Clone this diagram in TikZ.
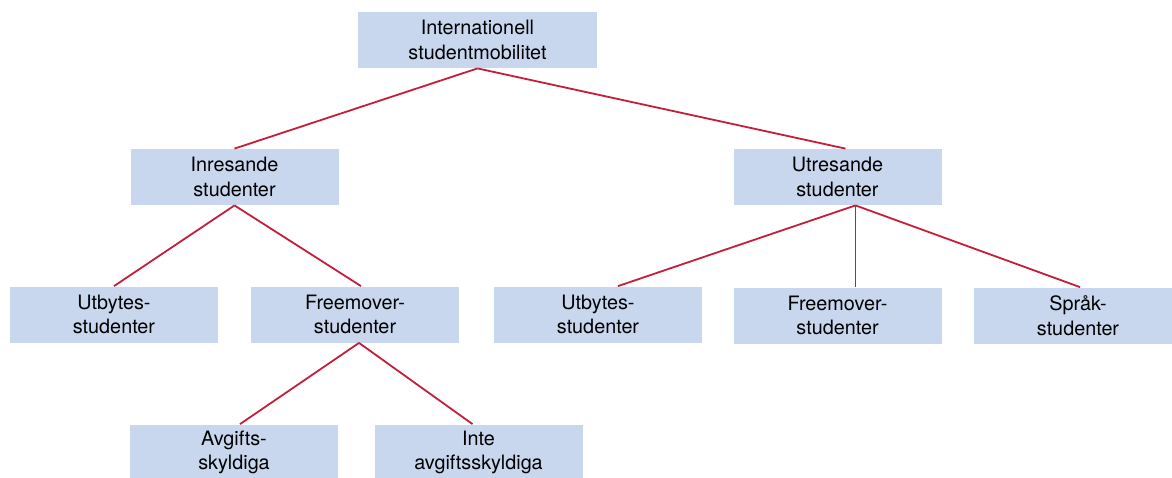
\documentclass[tikz,border=0pt]{standalone}
\usepackage{fontspec}
\setmainfont{TeX Gyre Heros}
\usepackage{tikz}
\usepackage{xcolor}
\definecolor{boxblue}{RGB}{200,214,238}
\definecolor{linkred}{RGB}{196,30,58}
\tikzset{%
    unit/.style={%
        fill=boxblue, draw=none, inner sep=0pt, align=center,
        minimum width=104pt, minimum height=28pt,
        font=\fontsize{9.9}{12.4}\selectfont
    },
    link/.style={linkred, line width=0.9pt}
}

\begin{document}
\begin{tikzpicture}[x=0.5pt,y=-0.5pt]
    \useasboundingbox (0,0) rectangle (1172,477);

    \node[unit, minimum width=119.5pt] (top) at (477.5,40) {Internationell\\studentmobilitet};

    \node[unit] (inr) at (234.5,177) {Inresande\\studenter};
	\node[unit] (utr) at (837.5,177) {Utresande\\studenter};

    \node[unit] (inutb) at (114,314.5) {Utbytes-\\studenter};
    \node[unit] (infree) at (355,314.5) {Freemover-\\studenter};
    \node[unit] (oututb) at (598,314.5) {Utbytes-\\studenter};
    \node[unit] (outfree) at (837.5,315.5) {Freemover-\\studenter};
    \node[unit] (outsprak) at (1078,315.5) {Språk-\\studenter};

    \node[unit] (avg) at (234,452.5) {Avgifts-\\skyldiga};
    \node[unit] (inteavg) at (478.5,452.5) {Inte\\avgiftsskyldiga};

    \draw[link] (top.south) -- (inr.north);
    \draw[link] (top.south) -- ([xshift=4]utr.north);
    \draw[link] (inr.south) -- (inutb.north);
    \draw[link] (inr.south) -- ([xshift=3]infree.north);
    \draw[link] ([xshift=9]utr.south) -- ([xshift=10]oututb.north);
    \draw[link] ([xshift=9]utr.south) -- ([xshift=9]outfree.north);
    \draw[link] ([xshift=9]utr.south) -- ([xshift=1]outsprak.north);
    \draw[link] ([xshift=2]infree.south) -- ([xshift=3]avg.north);
    \draw[link] ([xshift=2]infree.south) -- ([xshift=-3]inteavg.north);
  \end{tikzpicture}
\end{document}
